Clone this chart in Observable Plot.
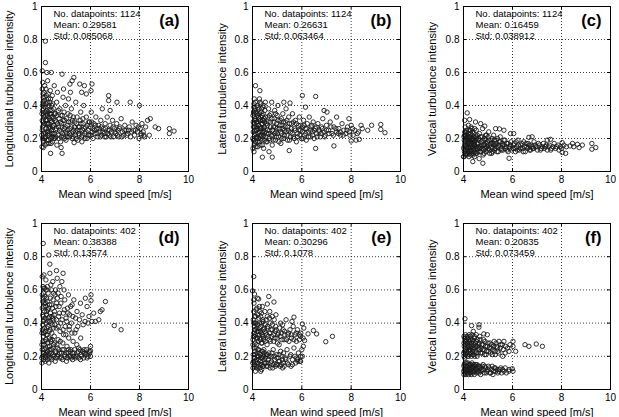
<!DOCTYPE html>
<html><head><meta charset="utf-8">
<script src="https://cdn.jsdelivr.net/npm/d3@7"></script>
<script src="https://cdn.jsdelivr.net/npm/@observablehq/plot@0.6"></script>
<style>
body{margin:0;background:#fff;}
#fig{position:relative;width:619px;height:417px;overflow:hidden;background:#fff;}
#fig svg{position:absolute;left:0;top:0;}
</style></head><body><div id="fig"></div>
<script>
const panelLetters = ["(a)","(b)","(c)","(d)","(e)","(f)"];
const yLabels = ["Longitudinal turbulence intensity","Lateral turbulence intensity","Vertical turbulence intensity",
                 "Longitudinal turbulence intensity","Lateral turbulence intensity","Vertical turbulence intensity"];
const xLabel = "Mean wind speed [m/s]";
const counts = [1124,1124,1124,402,402,402];
const means = ["0.29581","0.26631","0.16459","0.38388","0.30296","0.20835"];
const stds = ["0.085068","0.063464","0.038912","0.13574","0.1078","0.073459"];
const xTicks = [4,6,8,10];
const yTicks = [0,0.2,0.4,0.6,0.8,1];

const ptsA = [[4.16,.79],[4.16,.66],[4.03,.61],[4.22,.6],[4.4,.6],[4.84,.59],[5.32,.57],[5.25,.55],[5.16,.53],[5.56,.53],[5.75,.52],[6.06,.53],[6.02,.49],[5.64,.48],[5.83,.47],[6.74,.46],[6.74,.43],[7.08,.42],[7.62,.42],[8.0,.4],[6.8,.37],[8.33,.31],[8.44,.32],[8.64,.27],[8.78,.26],[9.22,.26],[9.22,.23],[9.41,.245],[8.07,.22],[8.2,.21],[4.37,.11],[4.84,.11],[4.8,.145],[4.07,.145],[5.33,.175],
[4.02,.15],[4.05,.2],[4.03,.25],[4.06,.3],[4.02,.35],[4.04,.4],[4.07,.45],[4.03,.5],[4.05,.54],[4.08,.18],[4.09,.23],[4.1,.28],[4.11,.33],[4.08,.38],[4.12,.43],[4.1,.48],[4.13,.52],[4.15,.16],[4.16,.21],[4.18,.26],[4.17,.31],[4.15,.36],[4.19,.41],[4.2,.46],[4.18,.5],[4.22,.19],[4.24,.24],[4.25,.29],[4.23,.34],[4.26,.39],[4.28,.44],[4.25,.55],[4.3,.17],[4.31,.22],[4.33,.27],[4.32,.32],[4.35,.37],[4.34,.42],[4.36,.49],[4.38,.2],[4.4,.25],[4.41,.3],[4.39,.35],[4.42,.4],[4.44,.46],[4.45,.18],[4.47,.23],[4.48,.28],[4.46,.33],[4.5,.38],[4.52,.52],[4.04,.27],[4.13,.24],[4.21,.35],[4.29,.26],[4.37,.31],[4.43,.21],[4.06,.42],[4.14,.39],[4.27,.47],
[4.55,.2],[4.58,.25],[4.6,.3],[4.57,.35],[4.62,.42],[4.65,.48],[4.68,.22],[4.7,.27],[4.72,.32],[4.75,.38],[4.78,.18],[4.8,.24],[4.82,.29],[4.85,.34],[4.88,.45],[4.9,.21],[4.93,.26],[4.95,.31],[4.98,.4],[5.0,.19],[5.03,.23],[5.05,.28],[5.08,.35],[5.1,.44],[5.13,.21],[5.16,.26],[5.2,.3],[5.22,.38],[5.25,.2],[5.28,.24],[5.3,.33],[5.35,.27],[5.38,.22],[5.4,.42],[5.43,.29],[5.46,.25],[5.48,.19],[4.63,.16],[4.9,.5],[5.18,.48],
[5.52,.23],[5.55,.27],[5.58,.31],[5.6,.36],[5.63,.21],[5.67,.25],[5.7,.29],[5.72,.4],[5.76,.23],[5.8,.27],[5.83,.33],[5.86,.2],[5.9,.25],[5.93,.3],[5.97,.22],[6.0,.27],[6.03,.36],[6.07,.24],[6.1,.2],[6.14,.29],[6.18,.23],[6.22,.33],[6.25,.26],[6.3,.21],[6.33,.28],[6.38,.24],[6.42,.31],[6.46,.22],[6.48,.38],[5.65,.18],
[6.52,.26],[6.56,.23],[6.6,.29],[6.64,.21],[6.68,.33],[6.72,.25],[6.76,.22],[6.8,.28],[6.85,.24],[6.9,.31],[6.94,.21],[6.98,.26],[7.03,.23],[7.07,.29],[7.12,.25],[7.16,.21],[7.2,.27],[7.25,.32],[7.3,.24],[7.35,.22],[7.4,.28],[7.45,.25],
[7.52,.23],[7.58,.27],[7.64,.21],[7.7,.3],[7.75,.25],[7.8,.22],[7.86,.28],[7.92,.24],[7.98,.2],[8.03,.26],[8.1,.29],[8.15,.24],[8.25,.27],[8.4,.22],
[4.01,.22],[4.03,.31],[4.04,.37],[4.06,.47],[4.07,.19],[4.09,.34],[4.1,.41],[4.12,.29],[4.13,.2],[4.14,.45],[4.16,.34],[4.17,.23],[4.19,.29],[4.2,.37],[4.21,.17],[4.23,.42],[4.24,.31],[4.26,.22],[4.27,.36],[4.29,.19],[4.3,.29],[4.31,.4],[4.33,.23],[4.34,.35],[4.36,.26],[4.37,.44],[4.39,.17],[4.4,.33],[4.42,.23],[4.43,.37],[4.45,.27],[4.46,.41],[4.48,.32],[4.49,.2],[4.51,.28],[4.53,.35],[4.54,.23],[4.56,.31],[4.59,.21],[4.61,.26],[4.63,.34],[4.66,.29],[4.69,.37],[4.71,.2],[4.73,.25],[4.77,.3],[4.79,.34],[4.81,.21],[4.84,.27],[4.87,.23],[4.89,.31],[4.92,.36],[4.94,.2],[4.97,.27],[4.99,.24],[5.02,.32],[5.04,.21],[5.07,.25],[5.11,.3],[5.14,.23],[5.17,.34],[5.19,.22],[5.23,.27],[5.26,.31],[5.29,.21],[5.32,.25],[5.36,.3],[5.39,.24],[5.42,.2],[5.45,.33],[5.5,.27],[5.54,.22],[5.57,.25],[5.61,.29],[5.66,.22],[5.69,.32],[5.74,.26],[5.78,.2],[5.82,.24],[5.88,.28],[5.92,.22],[5.96,.3],[6.02,.22],[6.05,.3],[6.09,.26],[6.16,.25],[6.2,.28],[6.27,.23],[6.35,.26],[6.4,.21],[6.44,.27],[6.5,.24],[6.58,.21],[6.62,.26],[6.7,.23],[6.78,.25],[6.83,.21],[6.92,.27],[7.0,.24],[7.1,.22],[7.18,.26],[7.28,.21],[7.38,.25],[7.48,.22],[7.55,.25],[7.68,.24],[7.83,.25],[7.95,.27],[8.06,.23],[8.18,.22]];

const ptsB = [[4.12,.52],[4.3,.49],[6.02,.46],[6.56,.455],[5.27,.42],[5.52,.415],[6.15,.39],[6.9,.37],[7.02,.36],[7.41,.33],[7.91,.32],[8.4,.28],[8.83,.28],[9.2,.285],[9.2,.255],[9.37,.235],[8.67,.25],[8.2,.19],[8.33,.195],[8.0,.185],[7.3,.155],[6.56,.14],[4.4,.087],[4.8,.087],[4.67,.12],[4.06,.12],[5.49,.127],
[4.02,.14],[4.04,.19],[4.03,.24],[4.06,.29],[4.02,.34],[4.05,.39],[4.07,.44],[4.08,.17],[4.09,.22],[4.1,.27],[4.11,.32],[4.08,.37],[4.12,.42],[4.14,.15],[4.15,.2],[4.17,.25],[4.16,.3],[4.18,.35],[4.2,.4],[4.22,.18],[4.23,.23],[4.25,.28],[4.24,.33],[4.26,.38],[4.28,.44],[4.3,.16],[4.31,.21],[4.33,.26],[4.32,.31],[4.35,.36],[4.34,.41],[4.38,.19],[4.4,.24],[4.41,.29],[4.39,.34],[4.42,.39],[4.45,.14],[4.46,.22],[4.48,.27],[4.47,.32],[4.5,.37],[4.52,.42],[4.04,.27],[4.13,.31],[4.21,.26],[4.29,.24],[4.37,.29],[4.43,.26],[4.06,.35],[4.19,.21],[4.27,.32],[4.36,.22],[4.11,.25],[4.44,.31],
[4.55,.18],[4.57,.23],[4.6,.28],[4.62,.33],[4.65,.38],[4.67,.2],[4.7,.25],[4.72,.3],[4.75,.35],[4.78,.42],[4.8,.16],[4.83,.22],[4.85,.27],[4.88,.32],[4.9,.37],[4.93,.19],[4.95,.24],[4.98,.29],[5.0,.34],[5.03,.4],[5.06,.21],[5.09,.26],[5.12,.31],[5.15,.17],[5.18,.23],[5.2,.28],[5.23,.35],[5.27,.2],[5.3,.25],[5.33,.3],[5.36,.38],[5.4,.22],[5.43,.27],[5.47,.33],[5.5,.19],[5.54,.24],[5.58,.29],[5.62,.35],[5.66,.21],[5.7,.26],[5.74,.31],[5.78,.18],[5.82,.23],[5.86,.28],[5.9,.33],[5.95,.25],[5.98,.2],
[6.03,.27],[6.07,.31],[6.1,.22],[6.14,.26],[6.18,.19],[6.22,.29],[6.26,.24],[6.3,.33],[6.34,.21],[6.38,.27],[6.42,.24],[6.46,.3],[6.5,.2],[6.55,.26],[6.6,.23],[6.65,.29],[6.7,.25],[6.75,.21],[6.8,.27],[6.85,.32],[6.9,.24],[6.95,.22],[7.0,.28],[7.08,.25],[7.15,.3],[7.22,.23],[7.3,.27],[7.4,.24],
[7.5,.26],[7.57,.22],[7.63,.29],[7.7,.25],[7.78,.23],[7.85,.27],[7.93,.24],[8.0,.28],[8.08,.22],[8.15,.25],[8.25,.23],[8.45,.26],
[4.01,.2],[4.03,.3],[4.04,.36],[4.06,.41],[4.07,.16],[4.09,.31],[4.1,.38],[4.12,.23],[4.13,.18],[4.14,.36],[4.16,.27],[4.17,.21],[4.19,.3],[4.2,.34],[4.21,.15],[4.23,.39],[4.24,.28],[4.26,.2],[4.27,.35],[4.29,.18],[4.3,.27],[4.31,.42],[4.33,.22],[4.34,.33],[4.36,.26],[4.37,.38],[4.39,.16],[4.4,.31],[4.42,.21],[4.43,.35],[4.45,.25],[4.46,.4],[4.48,.3],[4.49,.19],[4.51,.24],[4.53,.33],[4.54,.21],[4.56,.29],[4.59,.18],[4.61,.25],[4.63,.3],[4.66,.23],[4.69,.34],[4.71,.19],[4.73,.27],[4.77,.22],[4.79,.32],[4.81,.25],[4.84,.19],[4.87,.3],[4.89,.23],[4.92,.27],[4.94,.35],[4.97,.21],[4.99,.26],[5.02,.23],[5.04,.31],[5.07,.18],[5.11,.28],[5.14,.24],[5.17,.32],[5.19,.2],[5.23,.26],[5.26,.3],[5.29,.22],[5.32,.27],[5.36,.24],[5.39,.31],[5.42,.19],[5.45,.25],[5.5,.29],[5.54,.21],[5.57,.26],[5.61,.23],[5.66,.3],[5.69,.2],[5.74,.25],[5.78,.29],[5.82,.21],[5.88,.25],[5.92,.22],[5.96,.28],[6.02,.24],[6.05,.2],[6.09,.28],[6.16,.23],[6.2,.26],[6.27,.21],[6.35,.25],[6.4,.28],[6.44,.22],[6.5,.25],[6.58,.27],[6.62,.21],[6.7,.24],[6.78,.23],[6.83,.26],[6.92,.21],[7.0,.25],[7.1,.23],[7.18,.27],[7.28,.22],[7.38,.26],[7.48,.23],[7.55,.24],[7.68,.22],[7.83,.25],[7.95,.22],[8.06,.26],[8.3,.24]];

const ptsC = [[4.15,.355],[4.25,.315],[4.05,.31],[4.49,.3],[4.7,.29],[4.87,.275],[5.31,.26],[5.47,.258],[5.65,.25],[5.92,.23],[6.05,.23],[6.67,.207],[6.8,.21],[7.42,.19],[7.55,.195],[8.03,.175],[8.45,.17],[8.65,.165],[8.85,.16],[9.24,.17],[9.24,.135],[9.4,.145],[8.72,.145],[8.03,.115],[8.17,.11],[4.38,.06],[4.79,.05],[4.64,.078],[4.0,.09],[5.86,.08],[8.2,.15],[8.1,.16],[8.35,.155],[8.5,.15],
[4.02,.09],[4.04,.12],[4.03,.15],[4.06,.18],[4.02,.21],[4.05,.24],[4.07,.27],[4.08,.1],[4.09,.13],[4.1,.16],[4.11,.19],[4.08,.22],[4.12,.25],[4.14,.11],[4.15,.14],[4.17,.17],[4.16,.2],[4.18,.23],[4.2,.28],[4.22,.09],[4.23,.12],[4.25,.15],[4.24,.18],[4.26,.21],[4.28,.25],[4.3,.1],[4.31,.13],[4.33,.16],[4.32,.19],[4.35,.22],[4.34,.26],[4.38,.11],[4.4,.14],[4.41,.17],[4.39,.2],[4.42,.23],[4.45,.09],[4.46,.12],[4.48,.15],[4.47,.18],[4.5,.21],[4.52,.25],[4.05,.165],[4.13,.205],[4.21,.175],[4.29,.145],[4.37,.185],[4.43,.165],[4.1,.235],[4.27,.125],
[4.55,.11],[4.57,.14],[4.6,.17],[4.62,.2],[4.65,.23],[4.67,.12],[4.7,.15],[4.72,.18],[4.75,.21],[4.78,.26],[4.8,.1],[4.83,.13],[4.85,.16],[4.88,.19],[4.9,.22],[4.93,.12],[4.95,.15],[4.98,.18],[5.0,.21],[5.03,.24],[5.06,.13],[5.09,.16],[5.12,.19],[5.15,.11],[5.18,.14],[5.2,.17],[5.23,.22],[5.27,.13],[5.3,.16],[5.33,.19],[5.37,.12],[5.42,.15],[5.46,.18],[5.5,.21],[5.55,.13],[5.6,.16],[5.65,.19],[5.7,.14],[5.76,.17],[5.82,.12],[5.88,.15],[5.94,.18],
[6.02,.14],[6.07,.17],[6.12,.12],[6.17,.15],[6.22,.19],[6.28,.13],[6.34,.16],[6.4,.14],[6.46,.18],[6.52,.12],[6.58,.15],[6.64,.17],[6.7,.13],[6.76,.16],[6.82,.14],[6.88,.18],[6.95,.15],[7.02,.13],[7.1,.16],[7.18,.14],[7.26,.17],[7.34,.15],[7.42,.13],[7.5,.16],[7.6,.14],[7.7,.17],[7.8,.15],[7.9,.13],
[4.01,.14],[4.03,.19],[4.04,.22],[4.06,.13],[4.07,.11],[4.09,.2],[4.1,.24],[4.12,.15],[4.13,.1],[4.14,.22],[4.16,.17],[4.17,.12],[4.19,.19],[4.2,.21],[4.21,.14],[4.23,.25],[4.24,.16],[4.26,.11],[4.27,.2],[4.29,.23],[4.3,.17],[4.31,.27],[4.33,.12],[4.34,.2],[4.36,.15],[4.37,.24],[4.39,.1],[4.4,.19],[4.42,.13],[4.43,.21],[4.45,.16],[4.46,.26],[4.48,.19],[4.49,.11],[4.51,.14],[4.53,.2],[4.54,.17],[4.56,.22],[4.59,.12],[4.61,.15],[4.63,.19],[4.66,.14],[4.69,.21],[4.71,.12],[4.73,.16],[4.77,.14],[4.79,.19],[4.81,.16],[4.84,.11],[4.87,.2],[4.89,.14],[4.92,.17],[4.94,.22],[4.97,.13],[4.99,.16],[5.02,.14],[5.04,.19],[5.07,.11],[5.11,.17],[5.14,.15],[5.17,.2],[5.19,.12],[5.23,.16],[5.26,.19],[5.29,.14],[5.32,.17],[5.36,.15],[5.39,.2],[5.42,.12],[5.45,.16],[5.5,.18],[5.54,.14],[5.57,.17],[5.61,.13],[5.66,.16],[5.69,.19],[5.74,.15],[5.78,.13],[5.82,.17],[5.88,.14],[5.92,.16],[5.96,.13],[6.04,.16],[6.1,.14],[6.15,.18],[6.2,.13],[6.25,.16],[6.32,.14],[6.38,.17],[6.44,.12],[6.5,.15],[6.56,.17],[6.62,.14],[6.68,.16],[6.74,.13],[6.8,.15],[6.86,.14],[6.92,.16],[7.0,.15],[7.06,.17],[7.14,.13],[7.22,.15],[7.3,.14],[7.38,.16],[7.46,.15],[7.56,.13],[7.66,.15],[7.76,.14],[7.86,.16],[7.96,.15],[8.0,.14]];

const ptsD = [[4.07,.88],[4.3,.81],[4.34,.755],[4.61,.716],[4.88,.7],[4.34,.7],[4.03,.68],[4.1,.69],[4.64,.67],[5.32,.54],[5.59,.52],[6.02,.57],[6.02,.535],[5.79,.55],[6.61,.53],[6.47,.48],[6.4,.47],[6.13,.46],[6.06,.41],[6.2,.41],[6.34,.42],[6.97,.385],[7.25,.36],[6.0,.26],[6.0,.233],[6.0,.2],[5.86,.19],[5.73,.22],[5.59,.18],[5.52,.25],
[4.02,.16],[4.04,.2],[4.03,.24],[4.06,.29],[4.02,.34],[4.05,.39],[4.07,.44],[4.03,.49],[4.05,.53],[4.08,.58],[4.09,.18],[4.1,.22],[4.11,.27],[4.08,.32],[4.12,.37],[4.1,.42],[4.13,.47],[4.11,.52],[4.14,.61],[4.15,.17],[4.16,.21],[4.18,.25],[4.17,.3],[4.15,.35],[4.19,.4],[4.2,.45],[4.18,.5],[4.21,.55],[4.22,.2],[4.24,.23],[4.25,.28],[4.23,.33],[4.26,.38],[4.28,.43],[4.25,.48],[4.27,.58],[4.3,.16],[4.31,.22],[4.33,.26],[4.32,.31],[4.35,.36],[4.34,.41],[4.36,.46],[4.33,.51],[4.38,.63],[4.4,.19],[4.41,.24],[4.39,.29],[4.42,.34],[4.44,.39],[4.43,.44],[4.45,.49],[4.47,.54],[4.48,.21],[4.5,.27],[4.52,.32],[4.5,.42],[4.53,.47],[4.55,.57],[4.56,.17],[4.58,.23],[4.6,.37],[4.62,.52],[4.06,.62],[4.2,.6],
[4.64,.2],[4.66,.25],[4.68,.3],[4.7,.44],[4.72,.5],[4.74,.22],[4.76,.35],[4.78,.4],[4.8,.56],[4.82,.19],[4.85,.24],[4.87,.28],[4.89,.46],[4.9,.33],[4.92,.6],[4.95,.21],[4.97,.38],[5.0,.43],[5.02,.17],[5.04,.26],[5.06,.49],[5.09,.22],[5.11,.31],[5.13,.36],[5.15,.45],[5.18,.2],[5.2,.24],[5.22,.4],[5.25,.51],[5.27,.18],[5.29,.29],[4.75,.62],[4.95,.54],[5.1,.57],[4.83,.65],
[5.33,.22],[5.36,.34],[5.39,.43],[5.42,.2],[5.45,.47],[5.48,.38],[5.5,.23],[5.55,.42],[5.6,.31],[5.63,.2],[5.66,.45],[5.7,.39],[5.74,.24],[5.78,.41],[5.82,.21],[5.86,.5],[5.9,.4],[5.94,.44],[5.97,.22],[5.44,.27],
[4.01,.19],[4.02,.27],[4.04,.36],[4.05,.45],[4.06,.55],[4.07,.22],[4.08,.41],[4.09,.5],[4.11,.34],[4.12,.24],[4.13,.56],[4.14,.29],[4.15,.43],[4.16,.19],[4.17,.52],[4.19,.33],[4.2,.22],[4.21,.47],[4.22,.37],[4.23,.18],[4.24,.53],[4.26,.26],[4.27,.41],[4.28,.21],[4.29,.49],[4.31,.35],[4.32,.19],[4.33,.44],[4.35,.24],[4.36,.55],[4.37,.3],[4.38,.4],[4.4,.22],[4.41,.51],[4.42,.18],[4.44,.3],[4.45,.43],[4.46,.25],[4.48,.37],[4.49,.58],[4.51,.2],[4.52,.45],[4.54,.28],[4.55,.39],[4.57,.22],[4.59,.5],[4.6,.19],[4.61,.42],[4.63,.27],[4.65,.55],[4.67,.21],[4.69,.38],[4.71,.24],[4.73,.46],[4.75,.19],[4.77,.29],[4.79,.52],[4.81,.22],[4.84,.42],[4.86,.18],[4.88,.36],[4.91,.24],[4.93,.48],[4.96,.2],[4.99,.33],[5.01,.22],[5.03,.41],[5.05,.19],[5.08,.46],[5.1,.24],[5.12,.2],[5.14,.38],[5.17,.23],[5.19,.5],[5.21,.19],[5.24,.34],[5.26,.22],[5.28,.44],[5.31,.2],[5.35,.24],[5.38,.19],[5.41,.36],[5.46,.22],[5.52,.19],[5.57,.24],[5.62,.21],[5.68,.23],[5.72,.19],[5.77,.22],[5.84,.24],[5.9,.2],[5.95,.23],[4.03,.57],[4.1,.61],[4.24,.62],[4.41,.6],[4.57,.6],[4.68,.58],[4.46,.65],[4.18,.66]];

const ptsE = [[4.05,.68],[4.0,.594],[4.08,.575],[4.05,.54],[4.66,.56],[4.6,.515],[4.87,.527],[4.25,.545],[4.4,.5],[5.68,.436],[6.02,.395],[6.08,.37],[6.25,.335],[6.47,.355],[6.6,.335],[5.95,.32],[6.11,.295],[6.06,.26],[6.97,.288],[7.24,.32],[6.02,.2],[5.95,.17],[5.83,.18],[5.56,.14],[5.22,.13],[4.33,.11],
[4.02,.13],[4.04,.17],[4.03,.21],[4.06,.25],[4.02,.3],[4.05,.34],[4.07,.38],[4.03,.42],[4.05,.47],[4.08,.15],[4.09,.19],[4.1,.23],[4.11,.28],[4.08,.32],[4.12,.36],[4.1,.4],[4.13,.44],[4.15,.14],[4.16,.18],[4.18,.22],[4.17,.27],[4.15,.31],[4.19,.35],[4.2,.39],[4.18,.49],[4.22,.16],[4.24,.2],[4.25,.24],[4.23,.29],[4.26,.33],[4.28,.37],[4.25,.43],[4.3,.13],[4.31,.17],[4.33,.21],[4.32,.3],[4.35,.34],[4.34,.38],[4.36,.46],[4.38,.15],[4.4,.19],[4.41,.23],[4.39,.28],[4.42,.32],[4.44,.36],[4.43,.41],[4.45,.14],[4.47,.18],[4.48,.22],[4.46,.3],[4.5,.35],[4.52,.39],[4.54,.16],[4.56,.21],[4.58,.33],[4.6,.37],[4.6,.44],[4.06,.52],[4.14,.48],[4.28,.5],[4.12,.11],[4.37,.12],
[4.62,.14],[4.64,.18],[4.66,.22],[4.68,.3],[4.7,.34],[4.72,.4],[4.74,.16],[4.76,.2],[4.78,.32],[4.8,.36],[4.82,.13],[4.84,.24],[4.86,.29],[4.88,.42],[4.9,.18],[4.92,.35],[4.94,.38],[4.96,.15],[4.98,.21],[5.0,.31],[5.02,.33],[5.05,.17],[5.08,.27],[5.1,.37],[5.12,.14],[5.14,.23],[5.17,.34],[5.2,.2],[5.22,.39],[5.25,.16],[5.28,.3],[5.3,.35],[5.33,.19],[5.36,.42],[5.4,.24],[5.43,.33],[5.46,.15],[5.48,.29],[4.7,.47],[4.95,.45],
[5.52,.36],[5.55,.21],[5.58,.31],[5.62,.18],[5.65,.38],[5.68,.25],[5.72,.33],[5.75,.16],[5.78,.29],[5.82,.36],[5.86,.22],[5.9,.3],[5.93,.17],[5.96,.34],[6.0,.24],[6.05,.31],[5.6,.41],[5.8,.19],
[4.01,.16],[4.02,.27],[4.04,.32],[4.05,.4],[4.06,.19],[4.07,.14],[4.08,.36],[4.09,.44],[4.11,.21],[4.12,.33],[4.13,.17],[4.14,.4],[4.15,.25],[4.16,.13],[4.17,.37],[4.19,.2],[4.2,.31],[4.21,.45],[4.22,.24],[4.23,.14],[4.24,.35],[4.26,.18],[4.27,.4],[4.28,.22],[4.29,.31],[4.31,.15],[4.32,.35],[4.33,.44],[4.35,.19],[4.36,.28],[4.37,.4],[4.38,.23],[4.4,.33],[4.41,.14],[4.42,.42],[4.44,.2],[4.45,.31],[4.46,.24],[4.48,.37],[4.49,.16],[4.51,.29],[4.52,.19],[4.54,.34],[4.55,.42],[4.57,.14],[4.59,.27],[4.6,.21],[4.61,.38],[4.63,.16],[4.65,.32],[4.67,.2],[4.69,.43],[4.71,.13],[4.73,.29],[4.75,.36],[4.77,.17],[4.79,.22],[4.81,.39],[4.84,.15],[4.86,.33],[4.88,.2],[4.91,.31],[4.93,.14],[4.96,.36],[4.99,.19],[5.01,.28],[5.03,.15],[5.05,.34],[5.08,.21],[5.1,.17],[5.12,.32],[5.14,.4],[5.17,.15],[5.19,.3],[5.21,.18],[5.24,.36],[5.26,.22],[5.28,.14],[5.31,.33],[5.35,.18],[5.38,.3],[5.41,.16],[5.46,.34],[5.52,.2],[5.57,.33],[5.62,.15],[5.68,.3],[5.72,.2],[5.77,.34],[5.84,.17],[5.9,.33],[5.95,.2],[4.5,.47],[4.3,.47],[4.8,.44],[4.2,.55]];

const ptsF = [[4.06,.426],[4.33,.385],[4.63,.39],[4.63,.375],[4.4,.35],[4.83,.335],[4.97,.33],[5.45,.29],[5.65,.29],[5.58,.27],[6.02,.29],[6.02,.26],[5.86,.23],[6.13,.23],[6.51,.27],[6.67,.26],[6.97,.274],[7.22,.26],[5.86,.12],[6.02,.11],[5.99,.125],[5.6,.2],[5.7,.22],[5.8,.25],
[4.02,.2],[4.04,.23],[4.03,.26],[4.06,.29],[4.02,.32],[4.08,.21],[4.09,.24],[4.1,.27],[4.11,.3],[4.14,.22],[4.15,.25],[4.17,.28],[4.16,.31],[4.2,.2],[4.22,.23],[4.23,.26],[4.25,.29],[4.28,.32],[4.3,.22],[4.31,.25],[4.33,.28],[4.36,.3],[4.38,.21],[4.4,.24],[4.42,.27],[4.45,.31],[4.48,.23],[4.5,.26],[4.53,.29],[4.56,.2],[4.6,.25],[4.63,.28],[4.66,.32],[4.7,.22],[4.74,.27],[4.78,.24],[4.82,.3],[4.86,.21],[4.9,.26],[4.95,.23],[5.0,.28],[5.05,.25],[5.1,.22],[5.15,.27],[5.2,.24],[5.25,.29],[5.3,.21],[5.35,.26],[5.4,.23],[5.5,.25],
[4.02,.09],[4.04,.12],[4.03,.15],[4.07,.1],[4.09,.13],[4.12,.16],[4.14,.11],[4.17,.14],[4.2,.09],[4.23,.12],[4.26,.15],[4.29,.1],[4.32,.13],[4.35,.16],[4.38,.11],[4.41,.14],[4.44,.09],[4.47,.12],[4.5,.15],[4.54,.1],[4.58,.13],[4.62,.11],[4.66,.14],[4.7,.09],[4.75,.12],[4.8,.15],[4.85,.1],[4.9,.13],[4.96,.11],[5.02,.14],[5.08,.1],[5.14,.12],[5.2,.09],[5.26,.13],[5.32,.11],[5.4,.1],[5.48,.12],[5.56,.1],[5.65,.11],[5.75,.1],
[4.01,.22],[4.02,.28],[4.04,.31],[4.05,.19],[4.07,.25],[4.08,.33],[4.1,.21],[4.12,.29],[4.13,.23],[4.15,.32],[4.17,.2],[4.18,.26],[4.2,.3],[4.21,.24],[4.23,.33],[4.25,.21],[4.27,.27],[4.28,.24],[4.3,.3],[4.32,.2],[4.34,.26],[4.35,.33],[4.37,.23],[4.39,.29],[4.41,.21],[4.43,.25],[4.44,.32],[4.46,.2],[4.49,.28],[4.51,.22],[4.52,.33],[4.55,.26],[4.57,.3],[4.59,.22],[4.62,.27],[4.65,.24],[4.68,.3],[4.72,.25],[4.76,.22],[4.8,.27],[4.84,.24],[4.88,.29],[4.92,.21],[4.97,.26],[5.03,.23],[5.08,.28],[5.12,.25],[5.18,.21],[5.23,.26],[5.28,.23],[5.33,.28],[5.38,.25],[5.44,.22],[5.52,.27],[5.62,.24],[5.72,.26],[5.9,.27],
[4.01,.11],[4.02,.14],[4.05,.1],[4.06,.16],[4.08,.12],[4.1,.09],[4.11,.14],[4.13,.12],[4.16,.1],[4.18,.16],[4.19,.12],[4.21,.15],[4.24,.1],[4.25,.13],[4.27,.11],[4.3,.15],[4.31,.09],[4.33,.12],[4.36,.14],[4.39,.1],[4.4,.13],[4.43,.15],[4.46,.11],[4.48,.14],[4.52,.12],[4.55,.15],[4.57,.11],[4.6,.14],[4.64,.1],[4.68,.13],[4.72,.11],[4.77,.14],[4.82,.12],[4.87,.14],[4.93,.1],[4.99,.12],[5.05,.13],[5.11,.1],[5.17,.14],[5.23,.11],[5.3,.13],[5.37,.12],[5.44,.11],[5.52,.13],[5.6,.12],[5.7,.13],[5.85,.11]];

const panelPoints = [ptsA, ptsB, ptsC, ptsD, ptsE, ptsF];

// plot rectangles inside the 619x417 figure: [left, right, top, bottom]
const W = 619, H = 417;
const rects = [[41,188,6,171],[252,400,6,171],[463,610,6,171],[41,188,223,389],[252,400,223,389],[463,610,223,389]];
const yLabelDx = [-32,-30,-31,-32,-30,-31];
const font = "'Liberation Sans', Arial, Helvetica, sans-serif";
const fmt = d => `${d}`;

const fig = document.getElementById("fig");
panelPoints.forEach((pts, i) => {
  const [L, R, T, B] = rects[i];
  const ph = B - T, pw = R - L;
  const tickLen = 3;
  const chart = Plot.plot({
    width: W, height: H,
    marginLeft: L, marginRight: W - R, marginTop: T, marginBottom: H - B,
    style: {background: "transparent", fontFamily: font, fontSize: "10px", color: "#000"},
    x: {domain: [4, 10], ticks: xTicks, tickFormat: fmt},
    y: {domain: [0, 1], ticks: yTicks, tickFormat: fmt},
    marks: [
      Plot.gridX(xTicks, {stroke: "#000", strokeOpacity: 0.75, strokeDasharray: "1,2"}),
      Plot.gridY(yTicks, {stroke: "#000", strokeOpacity: 0.75, strokeDasharray: "1,2"}),
      Plot.tickX(xTicks, {x: d => d, insetTop: ph - tickLen, stroke: "#000"}),
      Plot.tickX(xTicks, {x: d => d, insetBottom: ph - tickLen, stroke: "#000"}),
      Plot.tickY(yTicks, {y: d => d, insetRight: pw - tickLen, stroke: "#000"}),
      Plot.tickY(yTicks, {y: d => d, insetLeft: pw - tickLen, stroke: "#000"}),
      Plot.dot(pts, {x: d => d[0], y: d => d[1], r: 2.2, fill: "none", stroke: "#1a1a1a", strokeWidth: 0.9}),
      Plot.frame({stroke: "#000", strokeWidth: 1}),
      Plot.axisX({ticks: xTicks, tickFormat: fmt, tickSize: 0, tickPadding: 4, fontSize: 10, label: null}),
      Plot.axisY({ticks: yTicks, tickFormat: fmt, tickSize: 0, tickPadding: 4, fontSize: 10, label: null}),
      Plot.text([`No. datapoints: ${counts[i]}\nMean: ${means[i]}\nStd: ${stds[i]}`],
        {text: d => d, frameAnchor: "top-left", textAnchor: "start", lineAnchor: "top", dx: 12, dy: 3, fontSize: 9.5, lineHeight: 1.15, fill: "#000"}),
      Plot.text([panelLetters[i]],
        {text: d => d, frameAnchor: "top-right", textAnchor: "end", lineAnchor: "middle", dx: -9, dy: 14, fontSize: 16.5, fontWeight: "bold", fill: "#000"}),
      Plot.text([xLabel],
        {text: d => d, frameAnchor: "bottom", textAnchor: "middle", lineAnchor: "middle", dy: 23, fontSize: 11, fill: "#000"}),
      Plot.text([yLabels[i]],
        {text: d => d, frameAnchor: "left", textAnchor: "middle", lineAnchor: "middle", rotate: -90, dx: yLabelDx[i], fontSize: 11, fill: "#000"})
    ]
  });
  fig.appendChild(chart);
});
</script></body></html>
